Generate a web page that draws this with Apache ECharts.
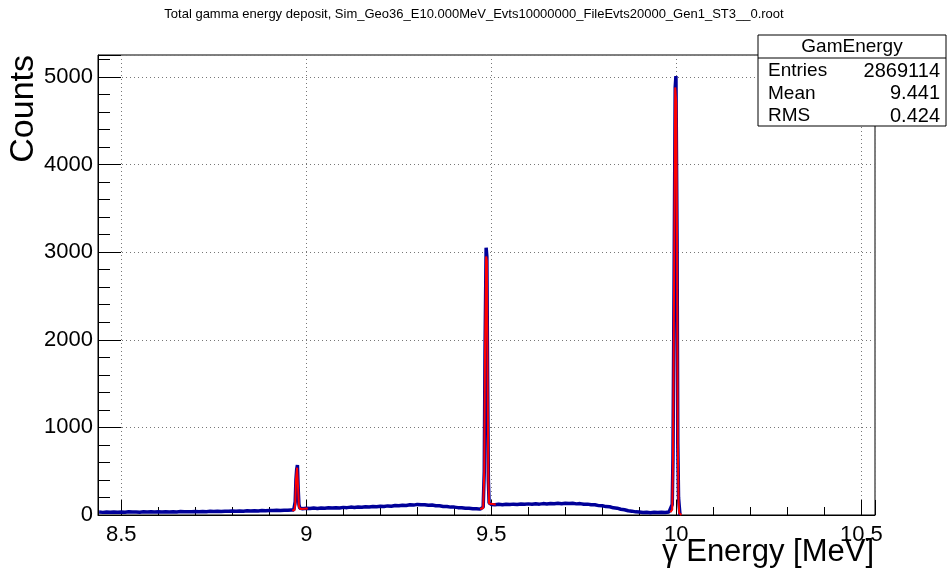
<!DOCTYPE html>
<html>
<head>
<meta charset="utf-8">
<script src="https://cdn.jsdelivr.net/npm/echarts@6/dist/echarts.min.js"></script>
<style>
html,body{margin:0;padding:0;background:#fff;}
#c{width:948px;height:569px;}
</style>
</head>
<body>
<div id="c"></div>
<script>
// ---- Data ----
const titleText = 'Total gamma energy deposit, Sim_Geo36_E10.000MeV_Evts10000000_FileEvts20000_Gen1_ST3__0.root';
const xTitle = '\u03b3 Energy [MeV]';
const yTitle = 'Counts';
const statsName = 'GamEnergy';
const statsLabels = ['Entries', 'Mean', 'RMS'];
const statsValues = ['2869114', '9.441', '0.424'];

const energy = [
 8.44,8.45,8.46,8.47,8.48,8.49,8.50,8.51,8.52,8.53,8.54,8.55,8.56,8.57,8.58,8.59,8.60,8.61,8.62,8.63,8.64,8.65,8.66,8.67,8.68,8.69,
 8.70,8.71,8.72,8.73,8.74,8.75,8.76,8.77,8.78,8.79,8.80,8.81,8.82,8.83,8.84,8.85,8.86,8.87,8.88,8.89,8.90,8.91,8.92,8.93,8.94,8.95,8.96,
 8.966,8.970,8.972,8.974,8.976,8.978,8.980,8.982,8.986,8.99,
 9.00,9.01,9.02,9.03,9.04,9.05,9.06,9.07,9.08,9.09,9.10,9.11,9.12,9.13,9.14,9.15,9.16,9.17,9.18,9.19,9.20,9.21,9.22,9.23,9.24,9.25,
 9.26,9.27,9.28,9.29,9.30,9.31,9.32,9.33,9.34,9.35,9.36,9.37,9.38,9.39,9.40,9.41,9.42,9.43,9.44,9.45,9.46,9.47,9.474,
 9.478,9.481,9.483,9.486,9.488,9.490,9.492,9.494,9.497,
 9.50,9.51,9.52,9.53,9.54,9.55,9.56,9.57,9.58,9.59,9.60,9.61,9.62,9.63,9.64,9.65,9.66,9.67,9.68,9.69,9.70,9.71,9.72,9.73,9.74,9.75,
 9.76,9.77,9.78,9.79,9.80,9.81,9.82,9.83,9.84,9.85,9.86,9.87,9.88,9.89,9.90,9.91,9.92,9.93,9.94,9.95,9.96,9.97,9.98,9.985,
 9.989,9.991,9.994,9.997,9.999,10.002,10.004,10.006,10.008,10.010
];
const counts = [
 33,30,34,31,35,32,34,31,36,33,35,32,36,34,37,33,36,34,38,35,37,35,39,36,38,37,
 40,37,41,38,42,39,43,40,44,42,45,43,46,44,48,45,49,47,50,48,52,50,53,51,55,53,57,
 58,150,400,520,570,300,120,80,74,72,
 76,73,79,75,80,77,82,79,84,81,87,84,90,86,92,89,95,92,98,95,101,98,104,101,108,105,
 112,109,117,113,121,116,118,112,114,106,105,98,97,90,90,84,83,77,76,71,72,67,70,
 90,500,1860,3050,2950,1550,400,140,118,
 121,116,122,117,123,119,124,120,126,122,127,123,128,124,130,126,132,128,134,129,135,130,133,127,130,123,
 124,116,116,107,106,96,94,82,78,66,60,49,44,36,34,29,31,27,31,28,32,29,33,30,
 120,650,2680,4880,5010,3140,820,200,95,0
];

const fitEnergy = [
 8.962,8.968,8.970,8.972,8.975,8.978,8.980,8.984,9.004,
 9.2,
 9.470,9.478,9.481,9.483,9.486,9.488,9.490,9.492,9.494,9.512,
 9.7,
 9.984,9.989,9.991,9.994,9.997,10.000,10.002,10.004,10.006,10.008,10.014
];
const fitCounts = [
 52,56,120,400,540,290,95,68,74,
 null,
 68,80,510,1860,2950,2900,1540,400,130,120,
 null,
 32,60,650,2680,4880,4700,3140,820,150,20,2
];

const xMin = 8.437, xMax = 10.537;
const yMin = 0, yMax = 5250, yStep = 1000;

// ---- Chart ----
const FONT = '"Liberation Sans", Arial, Helvetica, sans-serif';
const chart = echarts.init(document.getElementById('c'), null, {renderer: 'canvas'});

const histData = energy.map((e, i) => [e, counts[i]]);
const fitData = fitEnergy.map((e, i) => [e, fitCounts[i]]);

const gridL = 98, gridT = 55, gridR = 73, gridB = 54;
const dotted = {show: true, lineStyle: {color: '#777', type: [1, 3], width: 1}};

const statsX = 758, statsY = 35, statsW = 188, statsH = 91;

chart.setOption({
  animation: false,
  backgroundColor: '#fff',
  textStyle: {fontFamily: FONT},
  grid: {left: gridL, top: gridT, right: gridR, bottom: gridB, show: true,
         borderColor: '#000', borderWidth: 1, backgroundColor: 'transparent'},
  xAxis: {
    type: 'value', min: xMin, max: xMax, splitNumber: 4,
    minInterval: 0.5, maxInterval: 0.5,
    axisLine: {show: true, onZero: false, lineStyle: {color: '#000', width: 1}},
    axisTick: {show: true, inside: true, length: 15, lineStyle: {color: '#000'}},
    minorTick: {show: true, splitNumber: 5, length: 8, lineStyle: {color: '#000'}},
    axisLabel: {show: true, showMinLabel: false, showMaxLabel: false, fontSize: 22,
                color: '#000', margin: 9, fontFamily: FONT},
    splitLine: dotted,
    minorSplitLine: {show: false}
  },
  yAxis: {
    type: 'value', min: yMin, max: yMax, interval: yStep,
    axisLine: {show: true, lineStyle: {color: '#000', width: 1}},
    axisTick: {show: true, inside: true, length: 23, lineStyle: {color: '#000'}},
    minorTick: {show: true, splitNumber: 5, length: 12, lineStyle: {color: '#000'}},
    axisLabel: {show: true, showMaxLabel: false, fontSize: 22, color: '#000', margin: 5, fontFamily: FONT,
                formatter: v => String(v)},
    splitLine: dotted
  },
  series: [
    {
      name: 'hist', type: 'line', data: histData, symbol: 'none', z: 2,
      lineStyle: {color: '#000099', width: 3.5},
      itemStyle: {color: '#000099'}
    },
    {
      name: 'fit', type: 'line', data: fitData, symbol: 'none', connectNulls: false, z: 3,
      lineStyle: {color: '#ff0000', width: 2},
      itemStyle: {color: '#ff0000'}
    }
  ],
  graphic: [
    {type: 'text', left: 'center', top: 8, z: 10,
     style: {text: titleText, fontSize: 13, fill: '#000', fontFamily: FONT}},
    {type: 'text', x: 24, y: 55, rotation: Math.PI / 2, z: 10,
     style: {text: yTitle, fontSize: 34, fill: '#000', align: 'right', verticalAlign: 'middle', fontFamily: FONT}},
    {type: 'text', x: 874, y: 552, z: 10,
     style: {text: xTitle, fontSize: 31, fill: '#000', align: 'right', verticalAlign: 'middle', fontFamily: FONT}},
    {type: 'rect', z: 20, shape: {x: statsX, y: statsY, width: statsW, height: statsH},
     style: {fill: '#fff', stroke: '#000', lineWidth: 1}},
    {type: 'line', z: 21, shape: {x1: statsX, y1: statsY + 23, x2: statsX + statsW, y2: statsY + 23},
     style: {stroke: '#000', lineWidth: 1}},
    {type: 'text', z: 22, x: statsX + statsW / 2, y: statsY + 12,
     style: {text: statsName, fontSize: 19, fill: '#000', align: 'center', verticalAlign: 'middle', fontFamily: FONT}}
  ].concat(statsLabels.map((lab, i) => ({
     type: 'text', z: 22, x: statsX + 10, y: statsY + 36 + i * 22.5,
     style: {text: lab, fontSize: 19, fill: '#000', align: 'left', verticalAlign: 'middle', fontFamily: FONT}
  }))).concat(statsValues.map((v, i) => ({
     type: 'text', z: 22, x: statsX + statsW - 6, y: statsY + 36 + i * 22.5,
     style: {text: v, fontSize: 20, fill: '#000', align: 'right', verticalAlign: 'middle', fontFamily: FONT}
  })))
});
</script>
</body>
</html>
